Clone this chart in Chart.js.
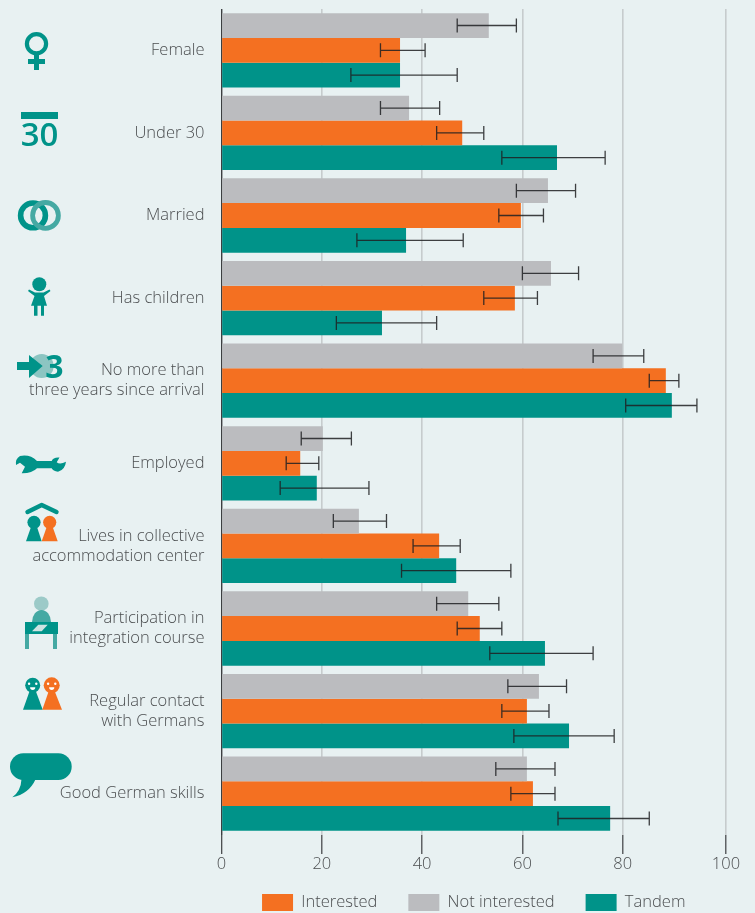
<!DOCTYPE html>
<html>
<head>
<meta charset="utf-8">
<title>Chart</title>
<script src="https://cdn.jsdelivr.net/npm/chart.js@4"></script>
<style>
    html, body { margin: 0; padding: 0; background: #e8f1f2; overflow: hidden; }
    canvas { display: block; }
</style>
</head>
<body>
<canvas id="chart" width="755" height="913"></canvas>
<script>
const categories = [
    'Female',
    'Under 30',
    'Married',
    'Has children',
    ['No more than', 'three years since arrival'],
    'Employed',
    ['Lives in collective', 'accommodation center'],
    ['Participation in', 'integration course'],
    ['Regular contact', 'with Germans'],
    'Good German skills'
];
const seriesNames = ['Not interested', 'Interested', 'Tandem'];
const legendOrder = ['Interested', 'Not interested', 'Tandem'];

const notInterested = [53.3, 37.4, 65.1, 65.7, 79.9, 20.2, 27.4, 49.2, 63.3, 60.9];
const notInterestedLow = [47.0, 31.7, 58.8, 60.0, 74.1, 15.9, 22.3, 42.9, 57.1, 54.7];
const notInterestedHigh = [58.8, 43.5, 70.6, 71.2, 84.2, 25.9, 32.9, 55.3, 68.8, 66.5];

const interested = [35.6, 48.0, 59.7, 58.5, 88.6, 15.7, 43.4, 51.5, 60.9, 62.1];
const interestedLow = [31.7, 42.9, 55.3, 52.3, 85.3, 12.9, 38.2, 47.0, 55.9, 57.7];
const interestedHigh = [40.6, 52.3, 64.2, 63.0, 91.2, 19.4, 47.6, 55.9, 65.3, 66.5];

const tandem = [35.6, 66.9, 36.8, 32.0, 89.8, 19.0, 46.8, 64.5, 69.3, 77.5];
const tandemLow = [25.8, 55.9, 27.0, 22.9, 80.6, 11.7, 35.9, 53.5, 58.3, 67.1];
const tandemHigh = [47.0, 76.5, 48.2, 42.9, 94.8, 29.4, 57.7, 74.1, 78.3, 85.3];

const xTickLabels = ['0', '20', '40', '60', '80', '100'];

const GRAY = '#bbbcbf';
const ORANGE = '#f47021';
const TEAL = '#009389';
const TEAL_MID = '#45a9a3';
const TEAL_LIGHT = '#9ccac8';
const TEXT = '#4b4e50';
const FONT = '"Open Sans", sans-serif';

// the 100 tick sits a little right of where 0-80 would put it in the source
const AXIS_END = 100.6;

const errorRanges = [
    [notInterestedLow, notInterestedHigh],
    [interestedLow, interestedHigh],
    [tandemLow, tandemHigh]
];

const errorBarPlugin = {
    id: 'errorBars',
    afterDatasetsDraw(chart) {
        const ctx = chart.ctx;
        const x = chart.scales.x;
        ctx.save();
        ctx.strokeStyle = 'rgba(30, 32, 34, 0.85)';
        ctx.lineWidth = 1.3;
        errorRanges.forEach(([low, high], i) => {
            chart.getDatasetMeta(i).data.forEach((bar, j) => {
                const x0 = x.getPixelForValue(low[j]);
                const x1 = x.getPixelForValue(high[j]);
                ctx.beginPath();
                ctx.moveTo(x0, bar.y);
                ctx.lineTo(x1, bar.y);
                ctx.moveTo(x0, bar.y - 7);
                ctx.lineTo(x0, bar.y + 7);
                ctx.moveTo(x1, bar.y - 7);
                ctx.lineTo(x1, bar.y + 7);
                ctx.stroke();
            });
        });
        ctx.restore();
    }
};

// the x axis box is kept short so the legend sits close, don't clip its labels to it
const axisLabelRoomPlugin = {
    id: 'axisLabelRoom',
    afterLayout(chart) {
        chart.scales.x.bottom = chart.height;
    }
};

function fillPath(ctx, color, d) {
    ctx.fillStyle = color;
    ctx.fill(new Path2D(d));
}

function circle(ctx, color, cx, cy, r) {
    ctx.fillStyle = color;
    ctx.beginPath();
    ctx.arc(cx, cy, r, 0, Math.PI * 2);
    ctx.fill();
}

function ring(ctx, color, cx, cy, r, width) {
    ctx.strokeStyle = color;
    ctx.lineWidth = width;
    ctx.beginPath();
    ctx.arc(cx, cy, r, 0, Math.PI * 2);
    ctx.stroke();
}

function pawn(ctx, color, cx, headY, r, baseLeft, baseRight, baseY) {
    circle(ctx, color, cx, headY, r);
    ctx.fillStyle = color;
    ctx.beginPath();
    ctx.moveTo(cx - 3, headY + r - 2);
    ctx.lineTo(cx + 3, headY + r - 2);
    ctx.lineTo(baseRight, baseY);
    ctx.lineTo(baseLeft, baseY);
    ctx.closePath();
    ctx.fill();
}

function face(ctx, cx, cy) {
    circle(ctx, '#ffffff', cx - 3.6, cy - 1.6, 1.2);
    circle(ctx, '#ffffff', cx + 3.6, cy - 1.6, 1.2);
    ctx.fillStyle = '#ffffff';
    ctx.beginPath();
    ctx.arc(cx, cy + 2, 2.6, 0, Math.PI);
    ctx.fill();
}

// the little pictograms left of the labels
const iconPlugin = {
    id: 'icons',
    afterDraw(chart) {
        const ctx = chart.ctx;
        ctx.save();

        // female
        ring(ctx, TEAL, 36.5, 43.7, 9.6, 4.2);
        ctx.fillStyle = TEAL;
        ctx.fillRect(34, 53, 5, 17);
        ctx.fillRect(28, 59, 17, 5);

        // under 30
        ctx.fillRect(21, 112, 37, 7);
        ctx.font = '600 33px ' + FONT;
        ctx.textAlign = 'center';
        ctx.textBaseline = 'alphabetic';
        ctx.fillText('30', 39.5, 145.5);

        // rings
        ring(ctx, TEAL, 33, 215.4, 12.4, 5.6);
        ring(ctx, TEAL_MID, 45.5, 215.4, 12.9, 4.8);

        // child
        circle(ctx, TEAL, 39.3, 284.3, 7);
        fillPath(ctx, TEAL, 'M28 291 L29 289.5 L35 292.5 L43.5 292.5 L49.5 289.5 L50.5 291 L44 296 L47 305.7 L44 305.7 L44 315.7 L41 315.7 L41 305.7 L37.5 305.7 L37.5 315.7 L34 315.7 L34 305.7 L31 305.7 L34.5 296 Z');

        // arrow and 3
        circle(ctx, '#8cc5c2', 41.7, 366, 12);
        fillPath(ctx, TEAL, 'M17 362 L29 362 L29 355 L42.7 366 L29 378 L29 370 L17 370 Z');
        ctx.fillStyle = TEAL;
        ctx.font = '700 32px ' + FONT;
        ctx.fillText('3', 54.5, 378);

        // wrench
        fillPath(ctx, TEAL, 'M20 456 Q30 454 37 461 L51.7 461 Q53 457 59.5 457.5 L56.7 462.3 Q60 465 66 461.7 Q65 470 58 471.7 Q53 471 51.7 468.3 L37 468.3 Q32 473.5 21.7 473.3 L25 466.7 L20 462.7 L16 465 Q15 459 20 456 Z');

        // collective accommodation
        ctx.strokeStyle = TEAL;
        ctx.lineWidth = 4.4;
        ctx.lineCap = 'round';
        ctx.lineJoin = 'round';
        ctx.beginPath();
        ctx.moveTo(27.5, 512);
        ctx.lineTo(41.7, 505);
        ctx.lineTo(56.5, 512);
        ctx.stroke();
        pawn(ctx, TEAL, 34, 522.3, 6.6, 26, 41.7, 541.3);
        pawn(ctx, ORANGE, 49.7, 522.3, 6.6, 41.7, 57.7, 541.3);

        // integration course
        circle(ctx, TEAL_LIGHT, 41.3, 603.7, 7.3);
        fillPath(ctx, TEAL_MID, 'M32 622 A9.5 12 0 0 1 51 622 Z');
        ctx.fillStyle = TEAL_MID;
        ctx.fillRect(25, 634, 4, 15);
        ctx.fillRect(53, 634, 4, 15);
        ctx.fillStyle = TEAL;
        ctx.fillRect(25, 622, 33, 12);
        fillPath(ctx, '#cfe3e2', 'M38.3 624.7 L47.7 624.7 L41.7 631.3 L32 631.3 Z');

        // contact with Germans
        pawn(ctx, TEAL, 32.7, 685.3, 7.5, 23, 42.7, 709.7);
        pawn(ctx, ORANGE, 51.7, 685.3, 8, 42.3, 62, 709.7);
        face(ctx, 32.7, 685.3);
        face(ctx, 51.7, 685.3);

        // speech bubble
        ctx.fillStyle = TEAL;
        ctx.beginPath();
        ctx.roundRect(10, 753.3, 61.7, 26.7, 13.3);
        ctx.fill();
        fillPath(ctx, TEAL, 'M21.5 779 Q21 791 12.3 797.3 Q29 794 35.7 779 Z');

        ctx.restore();
    }
};

function makeDataset(label, data, color) {
    return {
        label: label,
        data: data,
        backgroundColor: color,
        borderWidth: 0,
        categoryPercentage: 0.9,
        barPercentage: 1
    };
}

new Chart(document.getElementById('chart'), {
    type: 'bar',
    data: {
        labels: categories,
        datasets: [
            makeDataset(seriesNames[0], notInterested, GRAY),
            makeDataset(seriesNames[1], interested, ORANGE),
            makeDataset(seriesNames[2], tandem, TEAL)
        ]
    },
    options: {
        indexAxis: 'y',
        responsive: false,
        animation: false,
        layout: { padding: { top: 9, right: 29, left: 0, bottom: 0 } },
        scales: {
            x: {
                min: 0,
                max: AXIS_END,
                afterBuildTicks(axis) {
                    axis.ticks = [0, 20, 40, 60, 80, AXIS_END].map(value => ({ value }));
                },
                afterFit(axis) {
                    axis.height = 28;
                    axis.paddingLeft = 0;
                    axis.paddingRight = 0;
                },
                grid: {
                    color: ctx => (ctx.tick && ctx.tick.value === 0 ? '#3c3f41' : '#c6cccd'),
                    lineWidth: ctx => (ctx.tick && ctx.tick.value === 0 ? 1.4 : 1.6),
                    tickColor: '#3c3f41',
                    tickWidth: 1.2,
                    tickLength: 19
                },
                border: { display: false },
                ticks: {
                    color: TEXT,
                    padding: 0,
                    maxRotation: 0,
                    autoSkip: false,
                    font: { family: FONT, size: 16.5, weight: 300 },
                    callback: (value, i) => xTickLabels[i]
                }
            },
            y: {
                afterFit(axis) {
                    axis.width = 221.5;
                    axis.paddingTop = 0;
                    axis.paddingBottom = 0;
                },
                grid: { display: false, drawTicks: false },
                border: { display: false },
                ticks: {
                    color: TEXT,
                    padding: 17,
                    autoSkip: false,
                    font: { family: FONT, size: 16.5, weight: 300, lineHeight: 1.22 }
                }
            }
        },
        plugins: {
            tooltip: { enabled: false },
            legend: {
                position: 'bottom',
                fullSize: false,
                maxHeight: 50,
                labels: {
                    boxWidth: 31,
                    boxHeight: 17,
                    padding: 31,
                    color: TEXT,
                    font: { family: FONT, size: 16.5, weight: 300 },
                    sort: (a, b) => legendOrder.indexOf(a.text) - legendOrder.indexOf(b.text)
                }
            }
        }
    },
    plugins: [axisLabelRoomPlugin, errorBarPlugin, iconPlugin]
});
</script>
</body>
</html>
